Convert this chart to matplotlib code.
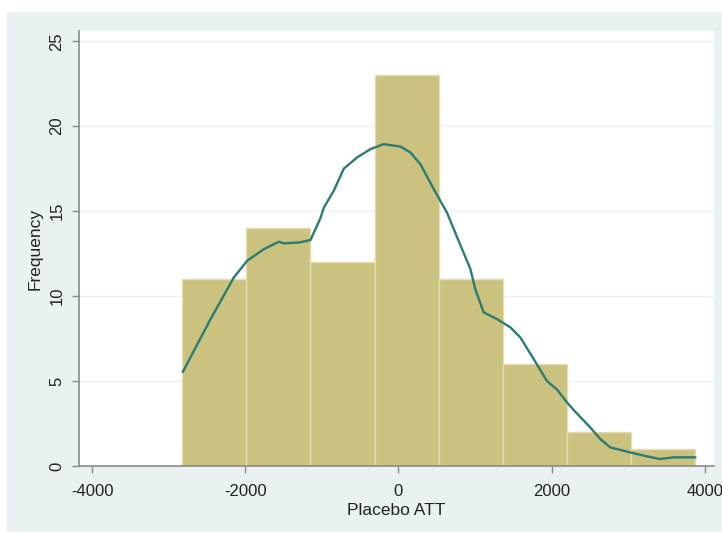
import matplotlib
matplotlib.use('Agg')
import matplotlib.pyplot as plt
from matplotlib.patches import Rectangle

# ---- data ----
bin_edges = [-2820, -1984, -1148, -312, 524, 1360, 2196, 3032, 3868]
counts = [11, 14, 12, 23, 11, 6, 2, 1]

curve_x = [-2813, -2452, -2148, -1974, -1757, -1561, -1496, -1300, -1148, -1017,
           -974, -844, -713, -539, -365, -192, 26, 157, 287, 461,
           635, 809, 939, 1004, 1113, 1287, 1461, 1591, 1765, 1939,
           2070, 2200, 2287, 2504, 2635, 2765, 3026, 3244, 3417, 3591, 3874]
curve_y = [5.55, 8.65, 11.1, 12.08, 12.76, 13.2, 13.1, 13.15, 13.3, 14.6,
           15.2, 16.2, 17.5, 18.16, 18.65, 18.94, 18.8, 18.45, 17.76, 16.3,
           14.9, 13.0, 11.6, 10.4, 9.04, 8.65, 8.16, 7.57, 6.3, 5.0,
           4.5, 3.75, 3.3, 2.27, 1.59, 1.1, 0.8, 0.57, 0.41, 0.51, 0.51]

xticks = [-4000, -2000, 0, 2000, 4000]
yticks = [0, 5, 10, 15, 20, 25]
xlabel = "Placebo ATT"
ylabel = "Frequency"

plt.rcParams['font.family'] = ['Liberation Sans', 'DejaVu Sans']

W, H = 722, 533
fig = plt.figure(figsize=(W / 100, H / 100), dpi=100, facecolor='white')
# outer graph region
bg = Rectangle((7 / W, 1 / H), (W - 7) / W, (H - 12 - 1) / H,
               transform=fig.transFigure, facecolor='#E9F1F3',
               edgecolor='none', zorder=-10)
fig.add_artist(bg)

ax = fig.add_axes([79 / W, (H - 466) / H, (714 - 79) / W, (466 - 31) / H])
ax.set_zorder(5)
ax.set_facecolor('white')

widths = [bin_edges[i + 1] - bin_edges[i] for i in range(len(counts))]
ax.bar(bin_edges[:-1], counts, width=widths, align='edge',
       color='#CAC27E', edgecolor='#E2DEB0', linewidth=1.0, zorder=2)
ax.plot(curve_x, curve_y, color='#2B7C74', linewidth=1.7, zorder=3)

ax.set_xlim(-4170, 4120)
ax.set_ylim(0, 25.6)
ax.set_xticks(xticks)
ax.set_yticks(yticks)
ax.set_xticklabels([str(v) for v in xticks], fontsize=12)
ax.set_yticklabels([str(v) for v in yticks], fontsize=12, rotation=90,
                   va='center')
ax.grid(axis='y', color='#EAF2F3', linewidth=1.0, zorder=0)
ax.set_axisbelow(True)

for s in ['top', 'right']:
    ax.spines[s].set_visible(False)
for s in ['left', 'bottom']:
    ax.spines[s].set_color('#8A8A8A')
    ax.spines[s].set_linewidth(1.2)
ax.tick_params(axis='both', colors='#8A8A8A', labelcolor='#222222',
               length=5, width=1.0, direction='out')
ax.tick_params(axis='y', pad=5.5)
ax.tick_params(axis='x', pad=8)

ax.set_xlabel(xlabel, fontsize=12.5, color='#222222', labelpad=3)
ax.set_ylabel(ylabel, fontsize=12.5, color='#222222', labelpad=5)

fig.savefig('out.png', dpi=100, facecolor='white')
